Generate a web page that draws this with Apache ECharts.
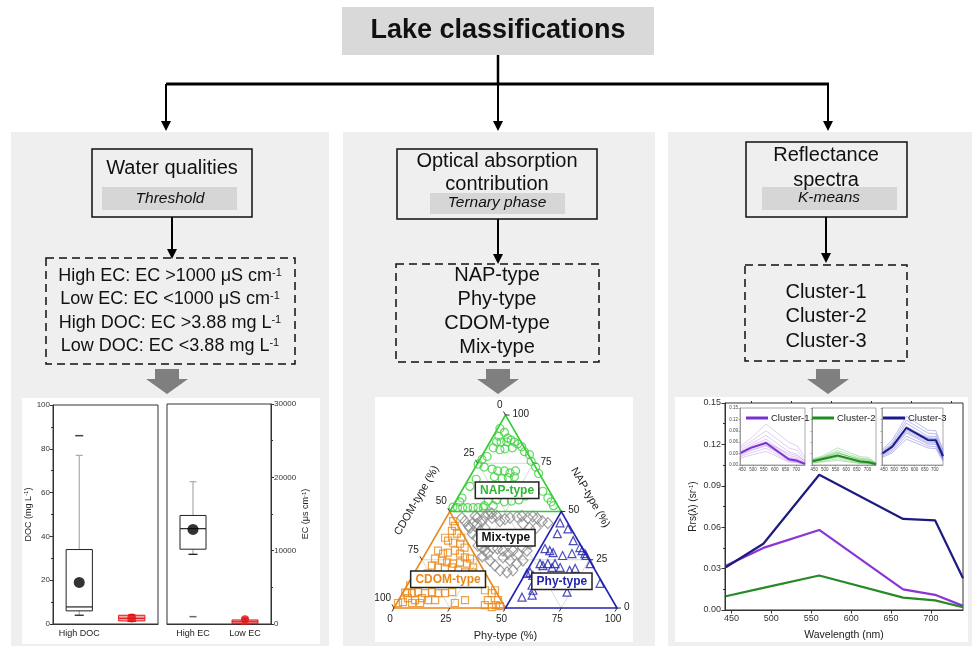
<!DOCTYPE html>
<html>
<head>
<meta charset="utf-8">
<script src="https://cdn.jsdelivr.net/npm/echarts@6/dist/echarts.min.js"></script>
<style>
  html, body { margin: 0; padding: 0; background: #fff; }
  #c { width: 972px; height: 646px; }
</style>
</head>
<body>
<div id="c"></div>
<script>
// ---------------- Water quality box plots ----------------
const docCategories = ['High DOC', 'Low DOC'];
// [lower whisker, Q1, median, Q3, upper whisker]
const docBoxes = [[4, 6, 7.8, 34, 77], [1.2, 1.4, 2.6, 4.0, 4.3]];
const docMeans = [19, 2.7];
const docExtremes = [[0, 86]];

const ecCategories = ['High EC', 'Low EC'];
const ecBoxes = [[9500, 10200, 13000, 14800, 19400], [0, 50, 300, 550, 800]];
const ecMeans = [12900, 650];
const ecExtremes = [[0, 1000]];

// ---------------- Ternary phase: [Phy %, NAP %]; CDOM % = 100 - Phy - NAP ----------------
const ternaryTicks = [0, 25, 50, 75, 100];
const ternaryGrid = [25, 50, 75];
const napTypePoints = [
  [1,93],[4,91],[2.5,89],[7,88],[3,86],[5,86],[7.6,86],[9,87],[11,86],[13,85],[15.5,83.5],[18,81],
  [21,79.5],[3,83],[6.5,82],[8.5,82.5],[11.6,83],[2.5,78.5],[1,77],[0.5,74.5],[4,73],[8,72],[11,71],
  [14,71],[17,70],[19,71],[11,68],[15,67],[17.5,67.5],[20,68],[23.5,76],[27,73],[30,69.7],[36.5,60.5],
  [40.5,57],[43,55],[45,53],[18,56],[22,55],[25,55.4],[28,56],[30,58],[14.5,55.4],[18,53],[14,53],
  [2,57],[2,55],[0.3,52.3],[2.5,52],[4.8,52],[7,52],[9.5,52],[11.7,52],[14,52],[3.5,66.7],[2.5,63]
];
const mixTypePoints = [
  [12.5,47.7],[14,46.7],[13.4,44],[15.4,43.6],[17,45],[17,47.5],[18,48.5],[19.3,49],[20,41.5],[18.6,40],
  [13.3,41.5],[15.8,38.5],[19,36.4],[25,33.3],[23.8,31.3],[26,29.7],[28,28.2],[26,36.4],[20.6,46.7],
  [22.3,47.7],[25,45],[26.7,46],[28.7,46.7],[31.6,47.2],[33.5,47.7],[36.7,46.7],[38.5,47.5],[41,46.5],
  [44,45],[47,44],[36,43.6],[40,41.5],[43,41.5],[28.8,31.3],[31,30.8],[34,29.7],[37,28.2],[38.5,29.7],
  [41.5,28.2],[42,31.3],[44.8,29.7],[44,33.3],[35.8,26.2],[39.7,24.6],[43.6,23],[37.8,19.5],[41.4,18.5],
  [43.6,19.5],[45.5,24.6],[9.3,45],[7.1,46.7],[12,42.6],[21.5,32.3],[26.2,26.7],[30.7,24.6],[34.3,22]
];
const cdomTypePoints = [
  [6,42.6],[4,45],[6,40],[9,38.5],[12,36.4],[4.7,36.4],[6.8,34.9],[9.6,33.8],[13,33.3],[16,31.3],
  [4.9,29.7],[7.9,28.2],[9.8,28.7],[12.5,29.7],[15.5,28.2],[18.7,26.2],[21.3,25.6],[5.6,25.6],[9.2,24.6],
  [12,23.6],[15,23],[17.8,23.6],[21.2,23],[25,21],[6,22],[9.2,21],[12.6,20.5],[15.5,21],[19,19.5],
  [22.6,18.5],[25.8,18.5],[29.2,16.9],[6.2,17.9],[1,8],[2,7.7],[4.2,7.7],[6.7,8.2],[10,7.7],[13,8.2],
  [16,7.7],[19,7.7],[22,8.2],[3.7,5.1],[7.4,4.1],[10,5.1],[13.2,4.1],[16.4,4.1],[0.5,2.6],[2.5,3],
  [6.8,2.6],[10.4,2.6],[29.8,4.1],[26,2.6],[36.2,9.2],[40,7.7],[40,4.1],[40,1.5],[43.6,0.5],[40.7,9.2],
  [44.6,4.1],[47,1],[45,1.5],[9.8,14.4],[25,13.3],[29,14.4],[1.3,11.8]
];
const phyTypePoints = [
  [52.4,44.1],[54,38.5],[57.5,41],[62.9,34.9],[52.3,30.8],[55,29.7],[57,28.7],[62,27.2],[65.7,28.2],
  [67.7,31.3],[69.5,29.7],[71.5,28.2],[72.5,27.2],[76.5,23],[54,23],[55.8,22],[57.5,23],[60.4,21],
  [60.7,23],[64,21],[51.8,18.5],[50.6,17.9],[53.8,16.9],[69,19.5],[71,20.5],[56,11.8],[57.7,9.2],
  [54.6,5.6],[58.6,6.7],[73.5,8.2],[86,12.8]
];
// region label anchors [Phy %, NAP %]
const regionLabels = [
  { text: 'NAP-type', at: [20.2, 61], color: '#2fb52f' },
  { text: 'Mix-type', at: [32, 36.4], color: '#111' },
  { text: 'CDOM-type', at: [16.8, 14.9], color: '#e8891c' },
  { text: 'Phy-type', at: [68.4, 13.8], color: '#2323aa' }
];

// ---------------- Reflectance spectra ----------------
const bands = [443, 490, 560, 665, 705, 740];
const wavelengthTicks = [450, 500, 550, 600, 650, 700];
const wavelengthMinorTicks = [475, 525, 575, 625, 675, 725];
const meanCluster1 = [0.032, 0.045, 0.058, 0.015, 0.011, 0.003];
const meanCluster2 = [0.010, 0.016, 0.025, 0.009, 0.007, 0.002];
const meanCluster3 = [0.031, 0.048, 0.098, 0.066, 0.065, 0.023];
const cluster1Samples = [
  [0.050,0.070,0.108,0.060,0.050,0.020],[0.045,0.062,0.090,0.045,0.038,0.012],
  [0.040,0.055,0.078,0.035,0.028,0.008],[0.036,0.050,0.068,0.025,0.020,0.006],
  [0.028,0.040,0.052,0.012,0.009,0.002],[0.022,0.032,0.044,0.010,0.007,0.002],
  [0.018,0.026,0.036,0.008,0.006,0.001],[0.034,0.048,0.062,0.020,0.016,0.004],
  [0.030,0.044,0.060,0.030,0.024,0.010],[0.026,0.038,0.050,0.018,0.014,0.003]
];
const cluster2Samples = [
  [0.016,0.024,0.045,0.022,0.020,0.006],[0.014,0.021,0.038,0.018,0.016,0.005],
  [0.012,0.019,0.032,0.014,0.012,0.004],[0.010,0.016,0.026,0.010,0.008,0.002],
  [0.008,0.013,0.020,0.007,0.005,0.002],[0.006,0.010,0.016,0.005,0.004,0.001],
  [0.005,0.008,0.012,0.004,0.003,0.001],[0.011,0.018,0.030,0.016,0.014,0.004],
  [0.009,0.014,0.022,0.012,0.010,0.003],[0.013,0.020,0.034,0.011,0.009,0.002]
];
const cluster3Samples = [
  [0.042,0.065,0.128,0.092,0.090,0.040],[0.038,0.058,0.118,0.084,0.082,0.034],
  [0.035,0.054,0.110,0.076,0.075,0.030],[0.032,0.050,0.102,0.070,0.068,0.025],
  [0.029,0.045,0.092,0.062,0.060,0.020],[0.026,0.040,0.084,0.055,0.054,0.016],
  [0.023,0.036,0.076,0.050,0.048,0.013],[0.020,0.032,0.068,0.045,0.043,0.010],
  [0.033,0.052,0.096,0.072,0.070,0.028],[0.028,0.044,0.088,0.058,0.058,0.018]
];

// ================= drawing =================
const FONT = '"Liberation Sans", Arial, sans-serif';
const SQ = Math.sqrt(3) / 2;
const toTern = p => [p[0] + p[1] / 2, p[1] * SQ];
const pairs = vals => bands.map((b, i) => [b, vals[i]]);

// ----- flow chart shapes -----
const G = [];
const Z_BG = -20;
function rect(x, y, w, h, style, z) {
  G.push({ type: 'rect', z: z === undefined ? 10 : z, shape: { x, y, width: w, height: h }, style });
}
function seg(x1, y1, x2, y2, w, z) {
  G.push({ type: 'line', z: z || 10, shape: { x1, y1, x2, y2 }, style: { stroke: '#000', lineWidth: w } });
}
function arrowHead(x, tipY) {
  G.push({ type: 'polygon', z: 10, shape: { points: [[x - 5, tipY - 10], [x + 5, tipY - 10], [x, tipY]] }, style: { fill: '#000' } });
}
function txt(x, y, text, font, extra) {
  G.push({ type: 'text', z: 12, x, y, style: Object.assign({ text, font, fill: '#111', align: 'center', verticalAlign: 'middle' }, extra || {}) });
}
function blockArrow(x, y) {
  G.push({ type: 'polygon', z: 10, shape: { points: [[x - 12, y], [x + 12, y], [x + 12, y + 10], [x + 21, y + 10], [x, y + 25], [x - 21, y + 10], [x - 12, y + 10]] }, style: { fill: '#7f7f7f' } });
}
function supLine(x, y, main, sup) {
  G.push({
    type: 'text', z: 12, x, y,
    style: {
      text: '{t|' + main + '}' + (sup ? '{s|' + sup + '}' : ''),
      align: 'center', verticalAlign: 'middle',
      rich: { t: { fontSize: 18, fontFamily: FONT, fill: '#111' }, s: { fontSize: 11, fontFamily: FONT, fill: '#111', verticalAlign: 'top' } }
    }
  });
}

// title and connectors
rect(342, 7, 312, 48, { fill: '#d9d9d9' });
txt(498, 31, 'Lake classifications', 'bold 27px ' + FONT);
seg(498, 55, 498, 84, 2.5);
seg(166, 84, 829, 84, 3);
[166, 498, 828].forEach(x => { seg(x, 84, x, 121, 2); arrowHead(x, 131); });

// panels and white chart areas
[[11, 132, 318, 514], [343, 132, 312, 514], [668, 132, 304, 514]].forEach(p => rect(p[0], p[1], p[2], p[3], { fill: '#efefef' }, Z_BG));
[[22, 398, 298, 246], [375, 397, 258, 245], [675, 397, 293, 245]].forEach(p => rect(p[0], p[1], p[2], p[3], { fill: '#ffffff' }, Z_BG + 1));

const boxStyle = { fill: 'none', stroke: '#111', lineWidth: 1.5 };
const barStyle = { fill: '#d6d6d6' };
const dashStyle = { fill: 'none', stroke: '#111', lineWidth: 1.5, lineDash: [8, 5] };
const italic = 'italic 15.5px ' + FONT;
const head = '20px ' + FONT;

// panel 1
rect(92, 149, 160, 68, boxStyle);
rect(102, 187, 135, 23, barStyle);
txt(172, 168, 'Water qualities', head);
txt(170, 199, 'Threshold', italic);
seg(172, 217, 172, 249, 2); arrowHead(172, 259);
rect(46, 258, 249, 106, dashStyle);
supLine(170, 276, 'High EC: EC >1000 μS cm', '-1');
supLine(170, 299, 'Low EC: EC <1000 μS cm', '-1');
supLine(170, 323, 'High DOC: EC >3.88 mg L', '-1');
supLine(170, 346, 'Low DOC: EC <3.88 mg L', '-1');
blockArrow(167, 369);

// panel 2
rect(397, 149, 200, 70, boxStyle);
rect(430, 193, 135, 21, barStyle);
txt(497, 161, 'Optical absorption', head);
txt(497, 184, 'contribution', head);
txt(497, 203, 'Ternary phase', italic);
seg(498, 219, 498, 254, 2); arrowHead(498, 264);
rect(396, 264, 203, 98, dashStyle);
['NAP-type', 'Phy-type', 'CDOM-type', 'Mix-type'].forEach((t, i) => txt(497, 275 + i * 24.3, t, head));
blockArrow(498, 369);

// panel 3
rect(746, 142, 161, 75, boxStyle);
rect(762, 187, 135, 23, barStyle);
txt(826, 155, 'Reflectance', head);
txt(826, 180, 'spectra', head);
txt(829, 198, 'K-means', italic);
seg(826, 217, 826, 253, 2); arrowHead(826, 263);
rect(745, 265, 162, 96, dashStyle);
['Cluster-1', 'Cluster-2', 'Cluster-3'].forEach((t, i) => txt(826, 292 + i * 24.5, t, head));
blockArrow(828, 369);

// ----- box plot renderer -----
const boxPalette = [
  { stroke: '#222', fill: 'none', whisker: '#aaaaaa', lowCap: '#222' },
  { stroke: '#e01818', fill: '#f6a6a6', whisker: '#e01818', lowCap: '#e01818' }
];
function renderBox(params, api) {
  const c = boxPalette[params.dataIndex];
  const x = api.value(0);
  const p = [1, 2, 3, 4, 5].map(k => api.coord([x, api.value(k)]));
  const cx = p[0][0];
  const w = api.size([1, 0])[0] * 0.5;
  const cap = 3.5;
  const L = (x1, y1, x2, y2, stroke, lw) => ({ type: 'line', shape: { x1, y1, x2, y2 }, style: { stroke, lineWidth: lw || 1 } });
  return {
    type: 'group',
    children: [
      L(cx, p[3][1], cx, p[4][1], c.whisker, 1.2),
      L(cx - cap, p[4][1], cx + cap, p[4][1], c.whisker, 1.2),
      L(cx, p[0][1], cx, p[1][1], c.whisker, 1.2),
      L(cx - cap - 1, p[0][1], cx + cap + 1, p[0][1], c.lowCap, 1.3),
      { type: 'rect', shape: { x: cx - w / 2, y: p[3][1], width: w, height: p[1][1] - p[3][1] }, style: { fill: c.fill, stroke: c.stroke, lineWidth: 1 } },
      L(cx - w / 2, p[2][1], cx + w / 2, p[2][1], c.stroke, 1.2)
    ]
  };
}

// ----- ternary frame renderer -----
function renderTernaryFrame(params, api) {
  const P = (phy, nap) => api.coord(toTern([phy, nap]));
  const ch = [];
  const L = (a, b, stroke, lw) => ch.push({ type: 'line', shape: { x1: a[0], y1: a[1], x2: b[0], y2: b[1] }, style: { stroke, lineWidth: lw } });
  const T = (pt, dx, dy, text, align) => ch.push({
    type: 'text', x: pt[0] + dx, y: pt[1] + dy,
    style: { text, fill: '#222', font: '10px ' + FONT, align, verticalAlign: 'middle' }
  });
  ternaryGrid.forEach(v => {
    L(P(0, v), P(100 - v, v), '#cfcfcf', 0.8);
    L(P(v, 0), P(v, 100 - v), '#cfcfcf', 0.8);
    L(P(0, 100 - v), P(100 - v, 0), '#cfcfcf', 0.8);
  });
  const poly = (pts, stroke) => ch.push({ type: 'polygon', shape: { points: pts }, style: { fill: 'none', stroke, lineWidth: 1.6 } });
  poly([P(0, 100), P(0, 50), P(50, 50)], '#33cc33');
  poly([P(0, 0), P(0, 50), P(50, 0)], '#e8891c');
  poly([P(100, 0), P(50, 50), P(50, 0)], '#2222b0');
  ternaryTicks.forEach(v => {
    const b = P(v, 0);
    L(b, [b[0] - 2, b[1] + 3.5], '#333', 1);
    T(b, -4, 11, String(v), 'center');
    const r = P(100 - v, v);
    L(r, [r[0] + 4, r[1]], '#333', 1);
    T(r, 7, -1, String(v), 'left');
    const l = P(0, 100 - v);
    L(l, [l[0] - 2, l[1] - 3.5], '#333', 1);
    T(l, -3, -10, String(v), 'right');
  });
  const titleFont = '11px ' + FONT;
  const cl = P(0, 50), cr = P(50, 50), cb = P(50, 0);
  ch.push({ type: 'text', x: cl[0] - 33, y: cl[1] - 11, rotation: Math.PI / 3, style: { text: 'CDOM-type (%)', font: titleFont, fill: '#222', align: 'center', verticalAlign: 'middle' } });
  ch.push({ type: 'text', x: cr[0] + 29, y: cr[1] - 14, rotation: -Math.PI / 3, style: { text: 'NAP-type (%)', font: titleFont, fill: '#222', align: 'center', verticalAlign: 'middle' } });
  ch.push({ type: 'text', x: cb[0], y: cb[1] + 28, style: { text: 'Phy-type (%)', font: titleFont, fill: '#222', align: 'center', verticalAlign: 'middle' } });
  return { type: 'group', children: ch };
}
function renderRegionLabels(params, api) {
  const r = regionLabels[params.dataIndex];
  const pt = api.coord(toTern(r.at));
  return {
    type: 'text', x: pt[0], y: pt[1],
    style: {
      text: r.text, font: 'bold 12px ' + FONT, fill: r.color, align: 'center', verticalAlign: 'middle',
      backgroundColor: '#fff', borderColor: '#222', borderWidth: 1.5, padding: [2, 4, 1, 4]
    }
  };
}

const hollow = (color, w) => ({ color: 'rgba(0,0,0,0)', borderColor: color, borderWidth: w || 1.2 });

// ----- axes -----
const axisLineStyle = { lineStyle: { color: '#333', width: 1 } };
const tickStyle = { lineStyle: { color: '#333', width: 1 } };
const smallLabel = { fontSize: 8, color: '#333', margin: 3, formatter: v => String(v) };

const xAxis = [
  { gridIndex: 0, type: 'category', data: docCategories, axisLine: axisLineStyle,
    axisTick: { alignWithLabel: true, length: 3, lineStyle: tickStyle.lineStyle }, axisLabel: { fontSize: 9, color: '#222', margin: 5 } },
  { gridIndex: 1, type: 'category', data: ecCategories, axisLine: axisLineStyle,
    axisTick: { alignWithLabel: true, length: 3, lineStyle: tickStyle.lineStyle }, axisLabel: { fontSize: 9, color: '#222', margin: 5 } },
  { gridIndex: 2, type: 'value', min: 0, max: 100, show: false },
  { gridIndex: 3, type: 'value', min: 442, max: 740, axisLine: axisLineStyle, splitLine: { show: false },
    axisTick: { customValues: wavelengthTicks, length: 3.5, lineStyle: tickStyle.lineStyle },
    axisLabel: { customValues: wavelengthTicks, fontSize: 9, color: '#333', margin: 4 },
    name: 'Wavelength (nm)', nameLocation: 'middle', nameGap: 20, nameTextStyle: { fontSize: 10.5, color: '#222' } },
  { gridIndex: 3, type: 'value', min: 442, max: 740, axisLine: { show: false }, splitLine: { show: false },
    axisTick: { customValues: wavelengthMinorTicks, length: 2, lineStyle: tickStyle.lineStyle }, axisLabel: { show: false } }
];
const yAxis = [
  { gridIndex: 0, type: 'value', min: 0, max: 100, interval: 20, axisLine: { show: true, lineStyle: axisLineStyle.lineStyle },
    axisTick: { show: true, length: 3, lineStyle: tickStyle.lineStyle }, minorTick: { show: true, splitNumber: 2, length: 2 },
    splitLine: { show: false }, axisLabel: smallLabel,
    name: '{a|DOC (mg L}{s|-1}{a|)}', nameLocation: 'middle', nameGap: 20,
    nameTextStyle: { rich: { a: { fontSize: 9, color: '#222' }, s: { fontSize: 6, color: '#222', verticalAlign: 'top' } } } },
  { gridIndex: 1, type: 'value', position: 'right', min: 0, max: 30000, interval: 10000, axisLine: { show: true, lineStyle: axisLineStyle.lineStyle },
    axisTick: { show: true, length: 3, lineStyle: tickStyle.lineStyle }, minorTick: { show: true, splitNumber: 2, length: 2 },
    splitLine: { show: false }, axisLabel: smallLabel,
    name: '{a|EC (μs cm}{s|-1}{a|)}', nameLocation: 'middle', nameGap: 30, nameRotate: 90,
    nameTextStyle: { rich: { a: { fontSize: 9, color: '#222' }, s: { fontSize: 6, color: '#222', verticalAlign: 'top' } } } },
  { gridIndex: 2, type: 'value', min: 0, max: 100 * SQ, show: false },
  { gridIndex: 3, type: 'value', min: 0, max: 0.15, interval: 0.03, axisLine: { show: true, lineStyle: axisLineStyle.lineStyle },
    axisTick: { show: true, length: 3.5, lineStyle: tickStyle.lineStyle }, minorTick: { show: true, splitNumber: 2, length: 2 },
    splitLine: { show: false }, axisLabel: { fontSize: 9, color: '#333', margin: 4, formatter: v => v.toFixed(2) },
    name: '{a|Rrs(λ) (sr}{s|-1}{a|)}', nameLocation: 'middle', nameGap: 27,
    nameTextStyle: { rich: { a: { fontSize: 10, color: '#222' }, s: { fontSize: 6, color: '#222', verticalAlign: 'top' } } } }
];

// inset axes
const insetGrids = [
  { left: 740, top: 408, width: 65, height: 57 },
  { left: 812, top: 408, width: 64, height: 57 },
  { left: 882, top: 408, width: 61, height: 57 }
];
const insetX0 = xAxis.length, insetY0 = yAxis.length, insetGrid0 = 4;
insetGrids.forEach((g, i) => {
  xAxis.push({ gridIndex: insetGrid0 + i, type: 'value', min: 440, max: 740, axisLine: { lineStyle: { color: '#777', width: 0.6 } }, splitLine: { show: false },
    axisTick: { customValues: wavelengthTicks, length: 1.5, lineStyle: { color: '#777', width: 0.6 } },
    axisLabel: { customValues: wavelengthTicks, fontSize: 4.5, color: '#444', margin: 2 } });
  yAxis.push({ gridIndex: insetGrid0 + i, type: 'value', min: 0, max: 0.15, interval: 0.03, axisLine: { show: true, lineStyle: { color: '#777', width: 0.6 } },
    axisTick: { show: true, length: 1.5, lineStyle: { color: '#777', width: 0.6 } }, splitLine: { show: false },
    axisLabel: { show: i === 0, fontSize: 4.5, color: '#444', margin: 2, formatter: v => v.toFixed(2) } });
});

const grid = [
  { left: 53, top: 405, width: 105, height: 219, show: true, borderColor: '#333', borderWidth: 1 },
  { left: 167, top: 404, width: 104, height: 220, show: true, borderColor: '#333', borderWidth: 1 },
  { left: 394, top: 415, width: 223, height: 193 },
  { left: 725, top: 403, width: 238, height: 207, show: true, borderColor: '#333', borderWidth: 1 }
].concat(insetGrids.map(g => Object.assign({ show: true, borderColor: '#888', borderWidth: 0.7, backgroundColor: '#fff' }, g)));

// ----- series -----
const series = [
  { type: 'custom', xAxisIndex: 0, yAxisIndex: 0, renderItem: renderBox, encode: { x: 0, y: [1, 2, 3, 4, 5] },
    data: docBoxes.map((b, i) => [i].concat(b)), z: 2 },
  { type: 'scatter', xAxisIndex: 0, yAxisIndex: 0, symbol: 'circle', z: 3,
    data: docMeans.map((v, i) => ({ value: [i, v], symbolSize: i === 0 ? 11 : 9, itemStyle: { color: i === 0 ? '#000' : '#e01010' } })) },
  { type: 'scatter', xAxisIndex: 0, yAxisIndex: 0, symbol: 'rect', symbolSize: [8, 1.5], itemStyle: { color: '#111' }, data: docExtremes, z: 3 },
  { type: 'custom', xAxisIndex: 1, yAxisIndex: 1, renderItem: renderBox, encode: { x: 0, y: [1, 2, 3, 4, 5] },
    data: ecBoxes.map((b, i) => [i].concat(b)), z: 2 },
  { type: 'scatter', xAxisIndex: 1, yAxisIndex: 1, symbol: 'circle', z: 3,
    data: ecMeans.map((v, i) => ({ value: [i, v], symbolSize: i === 0 ? 11 : 8, itemStyle: { color: i === 0 ? '#000' : '#e01010' } })) },
  { type: 'scatter', xAxisIndex: 1, yAxisIndex: 1, symbol: 'rect', symbolSize: [7, 1.5], itemStyle: { color: '#444' }, data: ecExtremes, z: 3 },

  // ternary
  { type: 'custom', xAxisIndex: 2, yAxisIndex: 2, renderItem: renderTernaryFrame, data: [[0, 0]], z: 1, silent: true },
  { type: 'scatter', xAxisIndex: 2, yAxisIndex: 2, symbol: 'circle', symbolSize: 8, itemStyle: hollow('#3dcf3d'), data: napTypePoints.map(toTern), z: 3 },
  { type: 'scatter', xAxisIndex: 2, yAxisIndex: 2, symbol: 'diamond', symbolSize: [10, 11], itemStyle: hollow('#8a8a8a'), data: mixTypePoints.map(toTern), z: 3 },
  { type: 'scatter', xAxisIndex: 2, yAxisIndex: 2, symbol: 'rect', symbolSize: 7, itemStyle: hollow('#e8891c'), data: cdomTypePoints.map(toTern), z: 3 },
  { type: 'scatter', xAxisIndex: 2, yAxisIndex: 2, symbol: 'triangle', symbolSize: 8, itemStyle: hollow('#2020b0'), data: phyTypePoints.map(toTern), z: 3 },
  { type: 'custom', xAxisIndex: 2, yAxisIndex: 2, renderItem: renderRegionLabels, data: regionLabels.map(r => toTern(r.at)), z: 6, silent: true },

  // spectra means
  { name: 'Mean Cluster-1', type: 'line', xAxisIndex: 3, yAxisIndex: 3, data: pairs(meanCluster1), symbol: 'none', lineStyle: { color: '#8a35d4', width: 2.2 }, z: 3 },
  { name: 'Mean Cluster-2', type: 'line', xAxisIndex: 3, yAxisIndex: 3, data: pairs(meanCluster2), symbol: 'none', lineStyle: { color: '#268a26', width: 2.2 }, z: 3 },
  { name: 'Mean Cluster-3', type: 'line', xAxisIndex: 3, yAxisIndex: 3, data: pairs(meanCluster3), symbol: 'none', lineStyle: { color: '#1c1c7c', width: 2.2 }, z: 3 }
];

const insetSets = [
  { name: 'Cluster-1', samples: cluster1Samples, mean: meanCluster1, thin: 'rgba(150,85,220,0.5)', thick: '#7b2fd0' },
  { name: 'Cluster-2', samples: cluster2Samples, mean: meanCluster2, thin: 'rgba(40,170,40,0.55)', thick: '#1e8c1e' },
  { name: 'Cluster-3', samples: cluster3Samples, mean: meanCluster3, thin: 'rgba(45,45,200,0.55)', thick: '#1a1a8a' }
];
insetSets.forEach((s, i) => {
  s.samples.forEach(vals => series.push({
    name: s.name + ' samples', type: 'line', xAxisIndex: insetX0 + i, yAxisIndex: insetY0 + i, data: pairs(vals),
    symbol: 'none', lineStyle: { color: s.thin, width: 0.6 }, z: 4, silent: true
  }));
  series.push({ name: s.name, type: 'line', xAxisIndex: insetX0 + i, yAxisIndex: insetY0 + i, data: pairs(s.mean),
    symbol: 'none', itemStyle: { color: s.thick }, lineStyle: { color: s.thick, width: 2 }, z: 5 });
});

const legendBase = { orient: 'horizontal', icon: 'rect', itemWidth: 22, itemHeight: 3, padding: 0, selectedMode: false,
  textStyle: { fontSize: 9.5, color: '#222', padding: [0, 0, 0, -2] } };
const legend = [
  Object.assign({ data: ['Cluster-1'], left: 746, top: 413 }, legendBase),
  Object.assign({ data: ['Cluster-2'], left: 812, top: 413 }, legendBase),
  Object.assign({ data: ['Cluster-3'], left: 883, top: 413 }, legendBase)
];

const chart = echarts.init(document.getElementById('c'), null, { renderer: 'canvas' });
chart.setOption({
  animation: false,
  backgroundColor: '#fff',
  textStyle: { fontFamily: FONT },
  grid, xAxis, yAxis, legend, series,
  graphic: { elements: G }
});
</script>
</body>
</html>
